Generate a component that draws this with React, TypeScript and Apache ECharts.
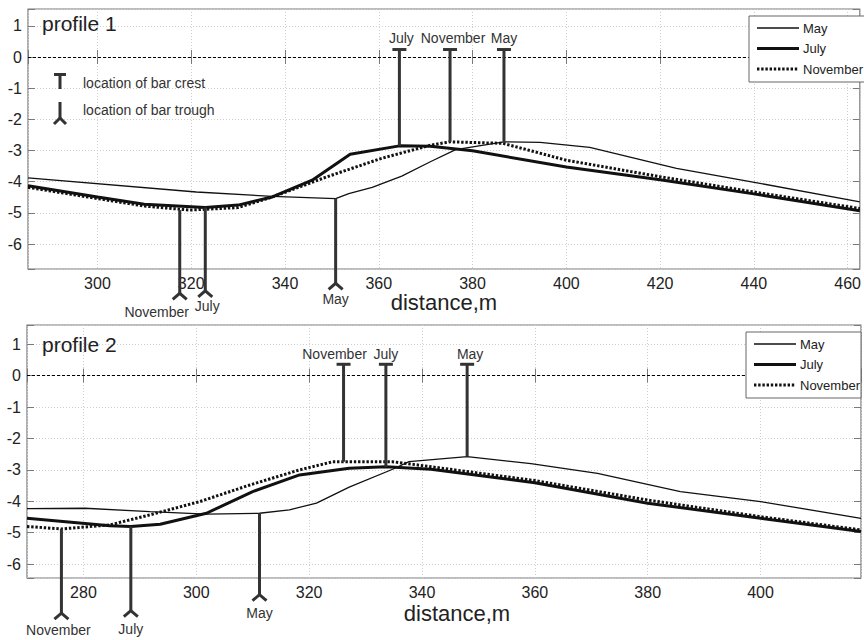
import { useEffect, useRef } from 'react';
import * as echarts from 'echarts';

// ---------- data ----------
const MONTHS = ['May', 'July', 'November'];

const p1May = [[285.19, -3.88], [321.1, -4.33], [337.3, -4.47], [350.8, -4.54], [353.6, -4.38], [358.6, -4.18], [364.9, -3.82], [371.0, -3.36], [376.4, -2.97], [386.7, -2.72], [394.4, -2.74], [405.0, -2.9], [423.5, -3.57], [440.1, -4.02], [462.6, -4.65]];
const p1July = [[285.19, -4.13], [300, -4.49], [310, -4.72], [323, -4.83], [330, -4.75], [337.3, -4.49], [345.8, -3.95], [353.9, -3.12], [364.4, -2.85], [371, -2.86], [380, -3.01], [400, -3.53], [420, -3.94], [440, -4.39], [462.6, -4.93]];
const p1Nov = [[285.19, -4.18], [300, -4.54], [310, -4.78], [319.6, -4.91], [330, -4.83], [337.3, -4.49], [349, -3.84], [360.6, -3.25], [371, -2.83], [375.2, -2.72], [386.5, -2.77], [400, -3.31], [420, -3.84], [440, -4.33], [462.6, -4.86]];

const p2May = [[270, -4.23], [280.3, -4.22], [291.8, -4.33], [301.8, -4.41], [311.2, -4.38], [316.5, -4.27], [321.3, -4.06], [327.1, -3.55], [334.8, -2.98], [337.7, -2.74], [348, -2.58], [359.3, -2.8], [371.1, -3.11], [385.8, -3.69], [400, -4.01], [417.8, -4.54]];
const p2July = [[270, -4.54], [284.7, -4.78], [288.4, -4.8], [293.6, -4.73], [301.8, -4.38], [310, -3.69], [318.3, -3.16], [327.1, -2.95], [333.6, -2.9], [341.6, -2.98], [360, -3.41], [380, -4.06], [400, -4.54], [417.8, -4.96]];
const p2Nov = [[270, -4.8], [276.1, -4.88], [284.7, -4.75], [291.8, -4.43], [300.6, -4.01], [309.5, -3.48], [318.3, -3.0], [324.2, -2.74], [326.1, -2.74], [334.8, -2.74], [341.6, -2.9], [360, -3.34], [380, -3.96], [400, -4.49], [417.8, -4.91]];

// bar crest / trough markers
const p1CrestLabels = ['July', 'November', 'May'];
const p1CrestX = [364.4, 375.2, 386.7];
const p1CrestBase = [-2.85, -2.72, -2.72];
const p1CrestTop = [0.24, 0.24, 0.24];

const p1TroughLabels = ['November', 'July', 'May'];
const p1TroughX = [317.55, 323.0, 350.8];
const p1TroughBase = [-4.91, -4.83, -4.54];
const p1TroughEnd = [-7.58, -7.5, -7.26];

const p2CrestLabels = ['November', 'July', 'May'];
const p2CrestX = [326.1, 333.6, 348.0];
const p2CrestBase = [-2.74, -2.9, -2.58];
const p2CrestTop = [0.36, 0.36, 0.36];

const p2TroughLabels = ['November', 'July', 'May'];
const p2TroughX = [276.1, 288.4, 311.2];
const p2TroughBase = [-4.88, -4.8, -4.38];
const p2TroughEnd = [-7.56, -7.48, -6.97];

// axis extents
const p1XRange = [285.19, 462.6];
const p1YRange = [-6.8, 1.54];
const p2XRange = [270, 417.8];
const p2YRange = [-6.44, 1.61];

// label layout offsets (px)
const p1CrestDx = [2, 3, 0];
const p1TroughDx = [-23, 2, 0];
const p1TroughDy = [19, 15, 16];
const p2CrestDx = [-9, 0, 3];
const p2TroughDx = [-3, 0, 0];
const p2TroughDy = [17, 18, 18];

const FONT = 'Arial, "Liberation Sans", Helvetica, sans-serif';
const FRAME = '#7a7a7a';
const MARK = '#333333';

const LINE_STYLES: Record<string, any> = {
  May: { color: '#111', width: 1.3, type: 'solid' },
  July: { color: '#111', width: 3, type: 'solid' },
  November: { color: '#111', width: 3, type: [2.4, 1.8] },
};

function markerSeries(kind: 'crest' | 'trough', idx: number, xs: number[], bases: number[], ends: number[], labels: string[], dx: number[], dy: number[]) {
  return {
    type: 'custom',
    xAxisIndex: idx * 2,
    yAxisIndex: idx * 2,
    clip: false,
    silent: true,
    z: 6,
    data: xs.map((x, i) => [x, bases[i], ends[i]]),
    encode: { x: 0, y: [1, 2] },
    renderItem: (params: any, api: any) => {
      const i = params.dataIndex;
      const p0 = api.coord([api.value(0), api.value(1)]);
      const p1 = api.coord([api.value(0), api.value(2)]);
      const style = { stroke: MARK, lineWidth: 3, fill: null };
      const children: any[] = [
        { type: 'line', shape: { x1: p0[0], y1: p0[1], x2: p1[0], y2: p1[1] }, style },
      ];
      if (kind === 'crest') {
        children.push({ type: 'line', shape: { x1: p1[0] - 7, y1: p1[1], x2: p1[0] + 7, y2: p1[1] }, style });
        children.push({
          type: 'text', x: p1[0] + dx[i], y: p1[1] - dy[i],
          style: { text: labels[i], font: `14px ${FONT}`, fill: MARK, align: 'center', verticalAlign: 'middle' },
        });
      } else {
        children.push({
          type: 'polyline',
          shape: { points: [[p1[0] - 7, p1[1] + 6], [p1[0], p1[1]], [p1[0] + 7, p1[1] + 6]] },
          style,
        });
        children.push({
          type: 'text', x: p1[0] + dx[i], y: p1[1] + dy[i],
          style: { text: labels[i], font: `14px ${FONT}`, fill: MARK, align: 'center', verticalAlign: 'middle' },
        });
      }
      return { type: 'group', children };
    },
  };
}

function lineSeries(name: string, idx: number, data: number[][], withZero: boolean) {
  const s: any = {
    name,
    type: 'line',
    xAxisIndex: idx * 2,
    yAxisIndex: idx * 2,
    data,
    symbol: 'none',
    showSymbol: false,
    smooth: false,
    color: '#111',
    lineStyle: LINE_STYLES[name],
    z: name === 'November' ? 4 : 3,
  };
  if (withZero) {
    s.markLine = {
      silent: true,
      symbol: ['none', 'none'],
      label: { show: false },
      lineStyle: { color: '#000', width: 1, type: [3, 2] },
      data: [{ yAxis: 0 }],
    };
  }
  return s;
}

function xAxes(grid: number, range: number[], nameGap: number, namePad: number[]) {
  const base = {
    type: 'value', gridIndex: grid, min: range[0], max: range[1], minInterval: 20, maxInterval: 20, splitNumber: 9,
  };
  return [
    {
      ...base,
      position: 'bottom',
      name: 'distance,m',
      nameLocation: 'middle',
      nameGap,
      nameTextStyle: { fontSize: 22, color: '#222', fontFamily: FONT, padding: namePad },
      axisLine: { show: false },
      axisTick: { show: true, inside: true, length: 7, lineStyle: { color: FRAME, width: 1 } },
      axisLabel: {
        fontSize: 16, color: '#222', margin: 6, fontFamily: FONT,
        formatter: (v: number) => (Math.abs(v % 20) < 1e-6 ? String(Math.round(v)) : ''),
      },
      splitLine: { show: true, lineStyle: { color: '#cfcfcf', width: 1, type: [1, 2] } },
    },
    {
      ...base,
      position: 'top',
      axisLine: { show: false },
      axisTick: { show: true, inside: true, length: 7, lineStyle: { color: FRAME, width: 1 } },
      axisLabel: { show: false },
      splitLine: { show: false },
    },
  ];
}

function yAxes(grid: number, range: number[]) {
  const base = { type: 'value', gridIndex: grid, min: range[0], max: range[1], minInterval: 1, maxInterval: 1, splitNumber: 8 };
  return [
    {
      ...base,
      position: 'left',
      axisLine: { show: false },
      axisTick: { show: true, inside: true, length: 7, lineStyle: { color: FRAME, width: 1 } },
      axisLabel: {
        fontSize: 16, color: '#222', margin: 6, fontFamily: FONT,
        formatter: (v: number) => (Math.abs(v - Math.round(v)) < 1e-6 ? String(Math.round(v)) : ''),
      },
      splitLine: { show: true, lineStyle: { color: '#cfcfcf', width: 1, type: [1, 2] } },
    },
    {
      ...base,
      position: 'right',
      axisLine: { show: false },
      axisTick: { show: true, inside: true, length: 7, lineStyle: { color: FRAME, width: 1 } },
      axisLabel: { show: false },
      splitLine: { show: false },
    },
  ];
}

// legend box drawn as graphic so that the line samples match the series styles
function legendGraphic(left: number, top: number, w: number) {
  const els: any[] = [
    { type: 'rect', shape: { x: left, y: top, width: w, height: 66 }, style: { fill: '#fff', stroke: '#666', lineWidth: 1 }, z: 30 },
  ];
  MONTHS.forEach((m, i) => {
    const cy = top + 12 + i * 20.5;
    const ls = LINE_STYLES[m];
    els.push({
      type: 'line',
      shape: { x1: left + 8, y1: cy, x2: left + 50, y2: cy },
      style: { stroke: ls.color, lineWidth: ls.width, lineDash: Array.isArray(ls.type) ? ls.type : null },
      z: 31,
    });
    els.push({
      type: 'text', x: left + 54, y: cy,
      style: { text: m, font: `13px ${FONT}`, fill: '#222', verticalAlign: 'middle' },
      z: 31,
    });
  });
  return els;
}

export default function App() {
  const ref = useRef<HTMLDivElement>(null);

  useEffect(() => {
    if (!ref.current) return;
    const chart = echarts.init(ref.current, undefined, { renderer: 'svg' });
    const option: any = {
      animation: false,
      backgroundColor: '#fff',
      textStyle: { fontFamily: FONT },
      grid: [
        { left: 28, top: 9, right: 1, height: 260, show: true, borderColor: FRAME, borderWidth: 1.2, backgroundColor: 'transparent' },
        { left: 27, top: 325, right: 1, height: 253, show: true, borderColor: FRAME, borderWidth: 1.2, backgroundColor: 'transparent' },
      ],
      xAxis: [...xAxes(0, p1XRange, 21, [0, 0, 0, 0]), ...xAxes(1, p2XRange, 24, [0, 0, 0, 26])],
      yAxis: [...yAxes(0, p1YRange), ...yAxes(1, p2YRange)],
      graphic: [
        { type: 'text', left: 42, top: 13, style: { text: 'profile 1', font: `21px ${FONT}`, fill: '#222' }, z: 20 },
        { type: 'text', left: 42, top: 334, style: { text: 'profile 2', font: `21px ${FONT}`, fill: '#222' }, z: 20 },
        // key: bar crest
        { type: 'line', shape: { x1: 54, y1: 74.5, x2: 66, y2: 74.5 }, style: { stroke: MARK, lineWidth: 3 }, z: 20 },
        { type: 'line', shape: { x1: 60, y1: 74.5, x2: 60, y2: 89 }, style: { stroke: MARK, lineWidth: 3 }, z: 20 },
        { type: 'text', x: 83, y: 83, style: { text: 'location of bar crest', font: `14px ${FONT}`, fill: MARK, verticalAlign: 'middle' }, z: 20 },
        // key: bar trough
        { type: 'line', shape: { x1: 60, y1: 102, x2: 60, y2: 118 }, style: { stroke: MARK, lineWidth: 3 }, z: 20 },
        { type: 'polyline', shape: { points: [[54, 124], [60, 118], [66, 124]] }, style: { stroke: MARK, lineWidth: 3, fill: null }, z: 20 },
        { type: 'text', x: 83, y: 110, style: { text: 'location of bar trough', font: `14px ${FONT}`, fill: MARK, verticalAlign: 'middle' }, z: 20 },
        ...legendGraphic(749, 16, 118),
        ...legendGraphic(746, 332, 115),
      ],
      series: [
        lineSeries('May', 0, p1May, true),
        lineSeries('July', 0, p1July, false),
        lineSeries('November', 0, p1Nov, false),
        lineSeries('May', 1, p2May, true),
        lineSeries('July', 1, p2July, false),
        lineSeries('November', 1, p2Nov, false),
        markerSeries('crest', 0, p1CrestX, p1CrestBase, p1CrestTop, p1CrestLabels, p1CrestDx, [12, 12, 12]),
        markerSeries('trough', 0, p1TroughX, p1TroughBase, p1TroughEnd, p1TroughLabels, p1TroughDx, p1TroughDy),
        markerSeries('crest', 1, p2CrestX, p2CrestBase, p2CrestTop, p2CrestLabels, p2CrestDx, [10, 10, 10]),
        markerSeries('trough', 1, p2TroughX, p2TroughBase, p2TroughEnd, p2TroughLabels, p2TroughDx, p2TroughDy),
      ],
    };
    chart.setOption(option);
    return () => chart.dispose();
  }, []);

  return <div ref={ref} style={{ position: 'fixed', left: 0, top: 0, width: 864, height: 640 }} />;
}
